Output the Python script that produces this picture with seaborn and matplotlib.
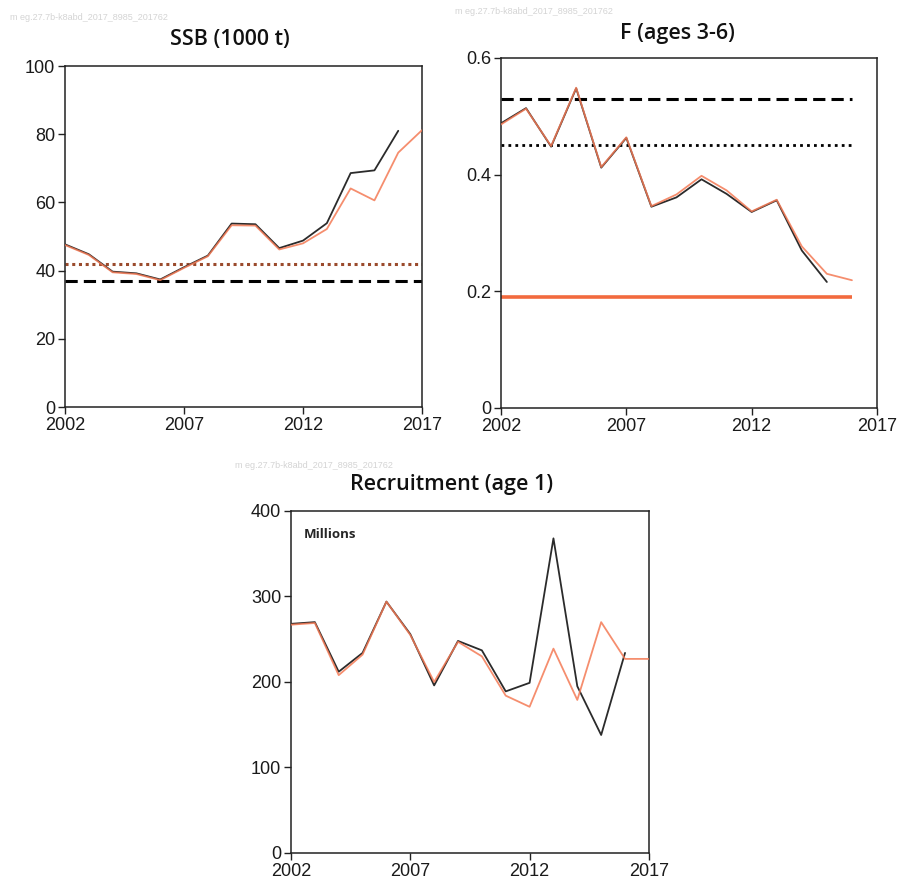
import numpy as np
import pandas as pd
import matplotlib
matplotlib.use('Agg')
import matplotlib.pyplot as plt
import seaborn as sns

sns.set_style('white')
plt.rcParams['font.family'] = ['Liberation Sans', 'DejaVu Sans']

# 数据
YEARS_ASSESS = list(range(2002, 2017))       # 本年评估 (黑线)
YEARS_PREV = list(range(2002, 2018))         # 上年评估 (橙线)

SSB_NEW = [47.7, 44.8, 39.7, 39.2, 37.4, 41.0, 44.4, 53.8, 53.6, 46.6, 48.8, 53.9, 68.6, 69.4, 81.0]
SSB_OLD = [47.5, 44.6, 39.5, 39.0, 37.2, 40.8, 44.2, 53.3, 53.2, 46.2, 48.0, 52.2, 64.1, 60.6, 74.6, 81.2]

YEARS_F_NEW = list(range(2002, 2016))
YEARS_F_OLD = list(range(2002, 2017))
F_NEW = [0.488, 0.514, 0.448, 0.548, 0.412, 0.463, 0.345, 0.361, 0.392, 0.367, 0.336, 0.356, 0.270, 0.216]
F_OLD = [0.486, 0.513, 0.449, 0.549, 0.413, 0.464, 0.346, 0.366, 0.398, 0.373, 0.337, 0.357, 0.277, 0.230, 0.219]

REC_NEW = [268, 270, 212, 234, 294, 256, 196, 248, 237, 189, 199, 368, 195, 138, 234]
REC_OLD = [267, 269, 208, 232, 294, 255, 200, 247, 230, 184, 171, 239, 179, 270, 227, 227]

# 参考点
B_LIM = 37
B_PA = 42
F_LIM = 0.53
F_PA = 0.45
F_MSY = 0.19

XTICKS = [2002, 2007, 2012, 2017]
WATERMARK = 'm eg.27.7b-k8abd_2017_8985_201762'

BLACK = '#2b2b2b'
ORANGE = '#f47a55'
REF_ORANGE = '#f26a3e'
DOT_BROWN = '#9a4a2c'


def to_long(years_a, vals_a, years_b, vals_b):
    df_a = pd.DataFrame({'Year': years_a, 'Value': vals_a, 'Run': 'new'})
    df_b = pd.DataFrame({'Year': years_b, 'Value': vals_b, 'Run': 'old'})
    return pd.concat([df_a, df_b], ignore_index=True)


def style_axis(ax, yticks, ylim, yfmt):
    ax.set_xlim(2002, 2017)
    ax.set_ylim(*ylim)
    ax.set_xticks(XTICKS)
    ax.set_yticks(yticks)
    ax.set_yticklabels([yfmt(v) for v in yticks])
    ax.set_xlabel('')
    ax.set_ylabel('')
    for s in ax.spines.values():
        s.set_visible(True)
        s.set_color('#222222')
        s.set_linewidth(1.1)
    ax.tick_params(axis='both', direction='out', length=5, width=1, color='#222222',
                   labelsize=13, labelcolor='#1a1a1a', left=True, bottom=True, pad=2)
    legend = ax.get_legend()
    if legend is not None:
        legend.remove()


def draw_series(ax, df):
    sns.lineplot(data=df, x='Year', y='Value', hue='Run', hue_order=['new', 'old'],
                 palette={'old': ORANGE, 'new': BLACK}, linewidth=1.3, ax=ax, legend=False)
    # 橙线半透明叠在黑线上
    lines = ax.get_lines()
    if len(lines) >= 2:
        lines[0].set_zorder(3)
        lines[1].set_zorder(4)
        lines[1].set_alpha(0.85)


fig = plt.figure(figsize=(8.97, 8.85), dpi=100)

# SSB
ax1 = fig.add_axes([0.0725, 0.5401, 0.398, 0.3853])
draw_series(ax1, to_long(YEARS_ASSESS, SSB_NEW, YEARS_PREV, SSB_OLD))
ax1.axhline(B_PA, color=DOT_BROWN, linestyle=(0, (1, 1.2)), linewidth=2.2, zorder=2)
ax1.axhline(B_LIM, color='black', linestyle=(0, (4, 2)), linewidth=2.2, zorder=2)
style_axis(ax1, [0, 20, 40, 60, 80, 100], (0, 100), lambda v: f'{v:d}')

# F
ax2 = fig.add_axes([0.5585, 0.539, 0.4192, 0.3955])
draw_series(ax2, to_long(YEARS_F_NEW, F_NEW, YEARS_F_OLD, F_OLD))
ax2.hlines(F_LIM, 2002, 2016, color='black', linestyle=(0, (4, 2)), linewidth=2.2, zorder=2)
ax2.hlines(F_PA, 2002, 2016, color='black', linestyle=(0, (1, 1.5)), linewidth=2.0, zorder=2)
ax2.hlines(F_MSY, 2002, 2016, color=REF_ORANGE, linestyle='-', linewidth=2.6, zorder=2)
style_axis(ax2, [0, 0.2, 0.4, 0.6], (0, 0.6), lambda v: '0' if v == 0 else f'{v:.1f}')

# Recruitment
ax3 = fig.add_axes([0.3244, 0.0362, 0.399, 0.3864])
draw_series(ax3, to_long(YEARS_ASSESS, REC_NEW, YEARS_PREV, REC_OLD))
style_axis(ax3, [0, 100, 200, 300, 400], (0, 400), lambda v: f'{v:d}')
ax3.text(0.035, 0.95, 'Millions', transform=ax3.transAxes, fontsize=9.5,
         fontweight='bold', ha='left', va='top', family=['Open Sans', 'DejaVu Sans'])

# 标题
title_kw = dict(fontsize=15.5, fontweight='semibold', ha='center', va='center',
                family=['Open Sans', 'DejaVu Sans'], color='#111111')
fig.text(230 / 897, 1 - 40 / 885, 'SSB (1000 t)', **title_kw)
fig.text(677 / 897, 1 - 33 / 885, 'F (ages 3-6)', **title_kw)
fig.text(452 / 897, 1 - 485 / 885, 'Recruitment (age 1)', **title_kw)

# 水印
wm_kw = dict(fontsize=6.5, color='#d4d4d4', ha='left', va='center')
fig.text(10 / 897, 1 - 17 / 885, WATERMARK, **wm_kw)
fig.text(455 / 897, 1 - 12 / 885, WATERMARK, **wm_kw)
fig.text(235 / 897, 1 - 465 / 885, WATERMARK, **wm_kw)

fig.savefig('out.png', dpi=100, facecolor='white')
plt.close(fig)
